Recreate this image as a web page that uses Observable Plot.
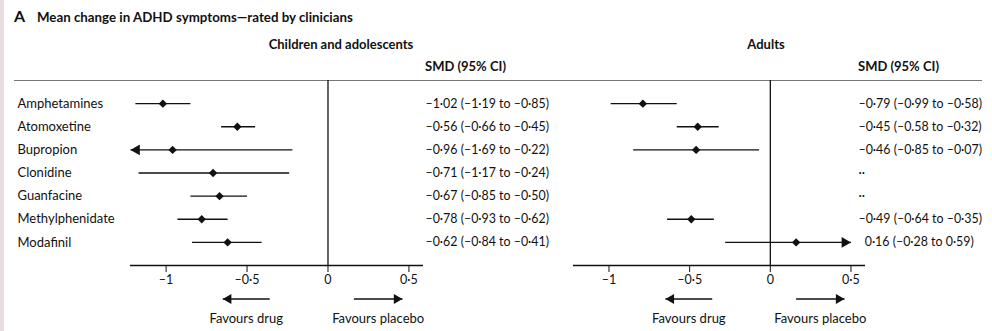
<!DOCTYPE html>
<html>
<head>
<meta charset="utf-8">
<script src="https://cdn.jsdelivr.net/npm/d3@7"></script>
<script src="https://cdn.jsdelivr.net/npm/@observablehq/plot@0.6"></script>
<style>
  html, body { margin: 0; padding: 0; background: #fff; }
  #root { position: relative; width: 992px; height: 331px; overflow: hidden; font-family: Lato, "Open Sans", sans-serif; color: #111; background: #fff; }
  .strip { position: absolute; left: 0; top: 0; width: 4px; height: 331px; background: #eadce3; }
  .t { position: absolute; white-space: nowrap; font-size: 13px; line-height: normal; font-weight: bold; }
  .rule { position: absolute; left: 14px; top: 80px; width: 968px; height: 1px; background: #777; }
  .panel { position: absolute; top: 80px; }
</style>
</head>
<body>
<div id="root">
  <div class="strip"></div>
  <div class="t" style="left:14px;top:6px;font-size:16px;">A</div>
  <div class="t" style="left:37px;top:9px;font-size:13.3px;">Mean change in ADHD symptoms—rated by clinicians</div>
  <div class="t" style="left:341px;top:36px;transform:translateX(-50%);">Children and adolescents</div>
  <div class="t" style="left:766px;top:36px;transform:translateX(-50%);">Adults</div>
  <div class="t" style="left:425px;top:58px;">SMD (95% CI)</div>
  <div class="t" style="left:858px;top:58px;">SMD (95% CI)</div>
  <div class="rule"></div>
  <div class="panel" id="left" style="left:0px;"></div>
  <div class="panel" id="right" style="left:560px;"></div>
</div>
<script>
// ---- data ----
const drugs = ["Amphetamines", "Atomoxetine", "Bupropion", "Clonidine", "Guanfacine", "Methylphenidate", "Modafinil"];

const childSMD  = [-1.02, -0.56, -0.96, -0.71, -0.67, -0.78, -0.62];
const childLow  = [-1.19, -0.66, -1.69, -1.17, -0.85, -0.93, -0.84];
const childHigh = [-0.85, -0.45, -0.22, -0.24, -0.50, -0.62, -0.41];
const childLabels = [
  "–1·02 (–1·19 to –0·85)",
  "–0·56 (–0·66 to –0·45)",
  "–0·96 (–1·69 to –0·22)",
  "–0·71 (–1·17 to –0·24)",
  "–0·67 (–0·85 to –0·50)",
  "–0·78 (–0·93 to –0·62)",
  "–0·62 (–0·84 to –0·41)"
];

const adultSMD  = [-0.79, -0.45, -0.46, null, null, -0.49, 0.16];
const adultLow  = [-0.99, -0.58, -0.85, null, null, -0.64, -0.28];
const adultHigh = [-0.58, -0.32, -0.07, null, null, -0.35, 0.59];
const adultLabels = [
  "–0·79 (–0·99 to –0·58)",
  "–0·45 (–0.58 to –0·32)",
  "–0·46 (–0·85 to –0·07)",
  "··",
  "··",
  "–0·49 (–0·64 to –0·35)",
  "\u20020·16 (–0·28 to 0·59)"
];

const xTicks = [-1, -0.5, 0, 0.5];
const xDomain = [-1.22, 0.59];
const ciClip = [-1.22, 0.5];
const favours = [
  {label: "Favours drug", from: -0.36, to: -0.65},
  {label: "Favours placebo", from: 0.16, to: 0.46}
];

// ---- helpers ----
const fmt = d => d === 0 ? "0" : (d < 0 ? "–" : "") + String(Math.abs(d)).replace(".", "·");
const INK = "#111";
const tipOffset = r => 2 * Math.sqrt((r * r * Math.PI) / (3 * Math.sqrt(3)));
const triR = 4.0;
const favR = 3.7;

function panel({smd, low, high, labels, names, width, marginLeft, marginRight, textDx}) {
  const rows = drugs.map((d, i) => ({drug: d, i: i + 1, label: labels[i]}));
  const ci = drugs.map((d, i) => ({i: i + 1, smd: smd[i], low: low[i], high: high[i]}))
    .filter(r => r.smd != null)
    .map(r => ({...r, lo: Math.max(r.low, ciClip[0]), hi: Math.min(r.high, ciClip[1])}));
  const arrL = ci.filter(r => r.low < ciClip[0]);
  const arrR = ci.filter(r => r.high > ciClip[1]);
  const fL = favours.filter(f => f.to < f.from);
  const fR = favours.filter(f => f.to > f.from);
  const marks = [
    Plot.ruleY([8], {stroke: INK, strokeWidth: 1.3}),
    Plot.ruleX([0], {y1: 0, y2: 8, stroke: INK, strokeWidth: 1.3}),
    Plot.axisX({ticks: xTicks, tickFormat: fmt, tickSize: 7, tickPadding: 3, fontSize: 12.5, stroke: INK, label: null}),
    Plot.link(ci, {x1: "lo", x2: "hi", y1: "i", y2: "i", stroke: INK, strokeWidth: 1.3}),
    Plot.dot(arrL, {x: "lo", y: "i", symbol: "triangle", rotate: -90, r: triR, fill: INK, stroke: null, dx: tipOffset(triR)}),
    Plot.dot(arrR, {x: "hi", y: "i", symbol: "triangle", rotate: 90, r: triR, fill: INK, stroke: null, dx: -tipOffset(triR)}),
    Plot.dot(ci, {x: "smd", y: "i", symbol: "diamond2", r: 3.8, fill: INK, stroke: null}),
    Plot.text(rows, {y: "i", text: "label", frameAnchor: "right", textAnchor: "start", dx: textDx, fontSize: 12.4, fill: "#111"}),
    Plot.link(favours, {x1: "from", x2: "to", y1: () => 9.45, y2: () => 9.45, stroke: INK, strokeWidth: 1.4}),
    Plot.dot(fL, {x: "to", y: () => 9.45, symbol: "triangle", rotate: -90, r: favR, fill: INK, stroke: null, dx: tipOffset(favR)}),
    Plot.dot(fR, {x: "to", y: () => 9.45, symbol: "triangle", rotate: 90, r: favR, fill: INK, stroke: null, dx: -tipOffset(favR)}),
    Plot.text(favours, {x: d => (d.from + d.to) / 2, y: () => 10.3, text: "label", fontSize: 13, fill: "#111"})
  ];
  if (names) {
    marks.push(Plot.text(rows, {y: "i", text: "drug", frameAnchor: "left", textAnchor: "start", dx: 17 - marginLeft, fontSize: 13, fill: "#111"}));
  }
  return Plot.plot({
    width,
    height: 251,
    marginTop: 0,
    marginBottom: 66,
    marginLeft,
    marginRight,
    x: {domain: xDomain},
    y: {domain: [0, 8], reverse: true, axis: null},
    style: {fontFamily: "Lato, 'Open Sans', sans-serif", fontSize: "13px", color: "#111", background: "transparent", overflow: "visible"},
    marks
  });
}

document.getElementById("left").appendChild(panel({
  smd: childSMD, low: childLow, high: childHigh, labels: childLabels, names: true,
  width: 560, marginLeft: 130, marginRight: 137, textDx: 2
}));
document.getElementById("right").appendChild(panel({
  smd: adultSMD, low: adultLow, high: adultHigh, labels: adultLabels, names: false,
  width: 432, marginLeft: 13, marginRight: 127, textDx: -7
}));
</script>
</body>
</html>
